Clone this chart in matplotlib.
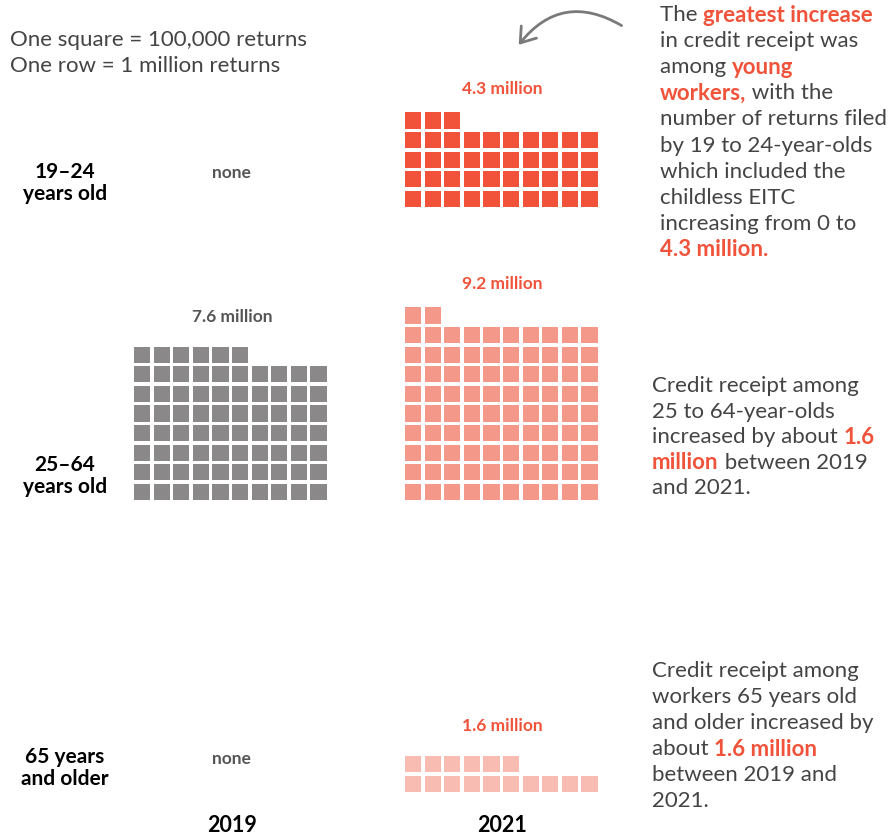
import matplotlib
matplotlib.use("Agg")
import matplotlib.pyplot as plt
from matplotlib.patches import Rectangle, FancyArrowPatch

plt.rcParams['font.family'] = ['Lato', 'DejaVu Sans']

# data
age_groups = ["19\u201324\nyears old", "25\u201364\nyears old", "65 years\nand older"]
years = ["2019", "2021"]
returns_2019 = [0.0, 7.6, 0.0]   # millions
returns_2021 = [4.3, 9.2, 1.6]
per_square = 0.1                 # million returns per square
per_row = 10

red = "#f0533a"
gray_sq = "#8a8888"
colors_2021 = ["#f0533a", "#f4998a", "#f8bcb2"]
txt = "#444444"

W, H = 888, 836
fig = plt.figure(figsize=(W / 100, H / 100), dpi=100)
ax = fig.add_axes([0, 0, 1, 1])
ax.set_xlim(0, W)
ax.set_ylim(H, 0)
ax.axis("off")
fig.canvas.draw()
rend = fig.canvas.get_renderer()

pitch = 19.6
size = 16.2
col_left = [134, 405]
col_center = [232, 502]
row_bottom = [207, 500, 792]
age_y = [183, 476, 768]
none_y = [173, 466, 759]
# value label heights, (group, year column)
label_y = {(0, 1): 89, (1, 0): 317, (1, 1): 284, (2, 1): 726}


def waffle(x0, ybot, value, color):
    n = int(round(value / per_square))
    for i in range(n):
        r, c = divmod(i, per_row)
        y = ybot - (r + 1) * pitch + (pitch - size)
        ax.add_patch(Rectangle((x0 + c * pitch, y), size, size, color=color, lw=0))


for g, lab in enumerate(age_groups):
    ax.text(65, age_y[g], lab, ha="center", va="center", fontsize=15,
            fontweight="bold", color="black", linespacing=1.12)
    for k, (vals, col) in enumerate([(returns_2019, gray_sq), (returns_2021, None)]):
        v = vals[g]
        if v == 0:
            ax.text(col_center[k] - 1, none_y[g], "none", ha="center", va="center",
                    fontsize=12.5, fontweight="bold", color="#555555")
            continue
        c = col if col else colors_2021[g]
        waffle(col_left[k], row_bottom[g], v, c)
        lc = "#555555" if k == 0 else red
        ax.text(col_center[k], label_y[(g, k)], f"{v:.1f} million", ha="center", va="center",
                fontsize=12.5, fontweight="bold", color=lc)

for k, yr in enumerate(years):
    ax.text(col_center[k], 826, yr, ha="center", va="center", fontsize=15.5,
            fontweight="bold", color="black")

ax.text(10, 40, "One square = 100,000 returns", ha="left", va="center", fontsize=16, color=txt)
ax.text(10, 66, "One row = 1 million returns", ha="left", va="center", fontsize=16, color=txt)


def width_of(s, weight, fs):
    t1 = ax.text(0, 0, s + "x", fontsize=fs, fontweight=weight)
    t2 = ax.text(0, 0, "x", fontsize=fs, fontweight=weight)
    w = t1.get_window_extent(rend).width - t2.get_window_extent(rend).width
    t1.remove()
    t2.remove()
    return w


def rich_block(x, y0, lines, step, fs=16):
    for i, parts in enumerate(lines):
        xx = x
        for s, hot in parts:
            wt = "bold" if hot else "normal"
            ax.text(xx, y0 + i * step, s, ha="left", va="center", fontsize=fs,
                    fontweight=wt, color=red if hot else txt)
            xx += width_of(s, wt, fs)


block1 = [
    [("The ", 0), ("greatest increase", 1)],
    [("in credit receipt was", 0)],
    [("among ", 0), ("young", 1)],
    [("workers,", 1), (" with the", 0)],
    [("number of returns filed", 0)],
    [("by 19 to 24-year-olds", 0)],
    [("which included the", 0)],
    [("childless EITC", 0)],
    [("increasing from 0 to", 0)],
    [("4.3 million.", 1)],
]
block2 = [
    [("Credit receipt among", 0)],
    [("25 to 64-year-olds", 0)],
    [("increased by about ", 0), ("1.6", 1)],
    [("million", 1), (" between 2019", 0)],
    [("and 2021.", 0)],
]
block3 = [
    [("Credit receipt among", 0)],
    [("workers 65 years old", 0)],
    [("and older increased by", 0)],
    [("about ", 0), ("1.6 million", 1)],
    [("between 2019 and", 0)],
    [("2021.", 0)],
]
rich_block(660, 15, block1, 26.1)
rich_block(652, 386, block2, 25.6)
rich_block(652, 671, block3, 26.0)

arrow = FancyArrowPatch((624, 27), (517, 47), connectionstyle="arc3,rad=0.45",
                        arrowstyle="->,head_length=5,head_width=3.5", color="#7a7a7a",
                        lw=2, mutation_scale=2)
ax.add_patch(arrow)

fig.savefig("out.png", dpi=100)
